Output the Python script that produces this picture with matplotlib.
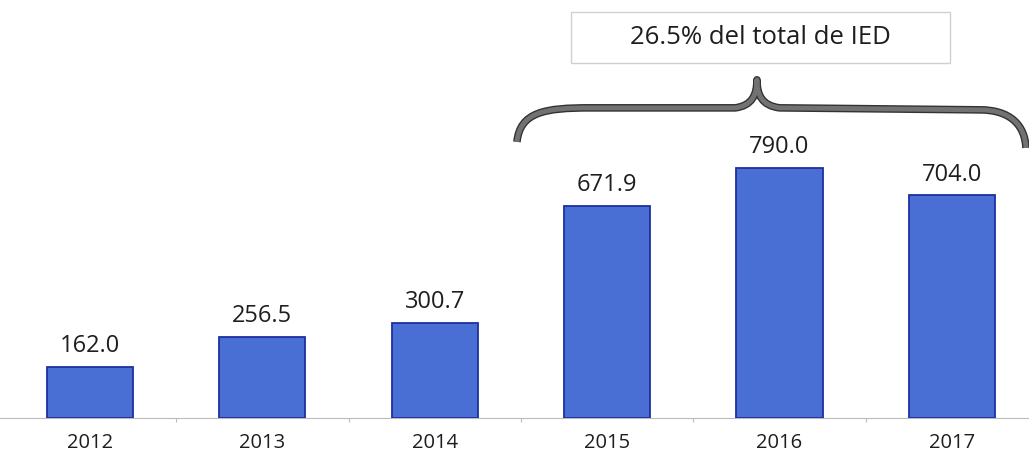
import matplotlib
matplotlib.use("Agg")
import matplotlib.pyplot as plt
from matplotlib.path import Path
from matplotlib.patches import PathPatch, Rectangle
import numpy as np

years = ["2012", "2013", "2014", "2015", "2016", "2017"]
values = [162.0, 256.5, 300.7, 671.9, 790.0, 704.0]
value_labels = ["162.0", "256.5", "300.7", "671.9", "790.0", "704.0"]
note_text = "26.5% del total de IED"

plt.rcParams['font.family'] = ['Open Sans', 'DejaVu Sans']

fig = plt.figure(figsize=(10.29, 4.57), dpi=100)
ax = fig.add_axes([0, 0.085, 1, 0.915])
x = np.arange(len(years))
ax.bar(x, values, width=0.5, color="#4a6fd4", edgecolor="#1f2f9e", linewidth=1.3, zorder=3)
for xi, v, lab in zip(x, values, value_labels):
    ax.text(xi, v + 28, lab, ha="center", va="bottom", fontsize=17, color="#1e1e1e")

ax.set_xlim(-0.522, 5.447)
ax.set_ylim(0, 1322)
for s in ["top", "right", "left"]:
    ax.spines[s].set_visible(False)
ax.spines["bottom"].set_color("#bbbbbb")
ax.spines["bottom"].set_linewidth(0.8)
ax.set_yticks([])
ax.set_xticks(x)
ax.set_xticklabels(years, fontsize=14.5, color="#1e1e1e")
ax.tick_params(axis="x", length=0, pad=11)
ax.set_xticks(x[:-1] + 0.5, minor=True)
ax.tick_params(axis="x", which="minor", length=3, color="#bbbbbb", width=0.8)

# annotation box
bx0, bx1 = (571 - 90) / 172.4, (950 - 90) / 172.4
by0, by1 = (418 - 63) / 0.316, (418 - 12) / 0.316
ax.add_patch(Rectangle((bx0, by0), bx1 - bx0, by1 - by0, facecolor="white",
                       edgecolor="#d0d0d0", linewidth=1.0, zorder=4, clip_on=False))
ax.text((bx0 + bx1) / 2, (by0 + by1) / 2, note_text, ha="center", va="center",
        fontsize=18.5, color="#1e1e1e", zorder=5)

# curly brace
def px(xp, yp):
    return ((xp - 90) / 172.4, (418 - yp) / 0.316)

pts = [px(517, 142), px(520, 112), px(545, 108), px(590, 108),
       px(735, 108),
       px(752, 106), px(757, 95), px(757, 80),
       px(757, 95), px(762, 106), px(780, 108),
       px(980, 110),
       px(1010, 110), px(1025, 125), px(1026, 148)]
codes = [Path.MOVETO, Path.CURVE4, Path.CURVE4, Path.CURVE4,
         Path.LINETO,
         Path.CURVE4, Path.CURVE4, Path.CURVE4,
         Path.CURVE4, Path.CURVE4, Path.CURVE4,
         Path.LINETO,
         Path.CURVE4, Path.CURVE4, Path.CURVE4]
path = Path(pts, codes)
ax.add_patch(PathPatch(path, facecolor="none", edgecolor="#333333", linewidth=5.5,
                       capstyle="butt", joinstyle="round", zorder=4, clip_on=False))
ax.add_patch(PathPatch(path, facecolor="none", edgecolor="#727272", linewidth=3.5,
                       capstyle="butt", joinstyle="round", zorder=4, clip_on=False))

fig.savefig("out.png", dpi=100)
